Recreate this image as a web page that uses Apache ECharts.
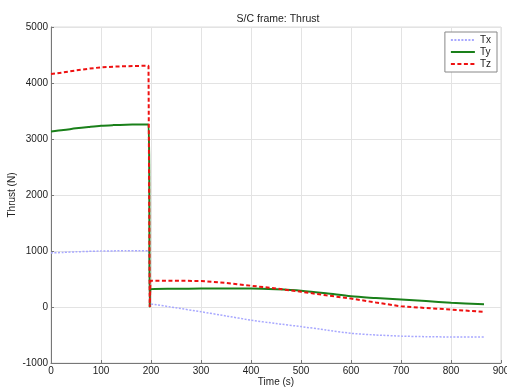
<!DOCTYPE html>
<html><head><meta charset="utf-8">
<script src="https://cdn.jsdelivr.net/npm/echarts@6/dist/echarts.min.js"></script>
<style>html,body{margin:0;padding:0;background:#fff}#c{width:507px;height:390px}</style>
</head><body><div id="c"></div>
<script>
const time = [0, 25, 50, 75, 100, 125, 150, 175, 195, 197.5, 199, 250, 300, 350, 400, 450, 500, 550, 600, 650, 700, 750, 800, 866];
const tx = [965, 975, 985, 993, 1000, 1002, 1003, 1004, 1005, 0, 50, -15, -85, -160, -235, -295, -350, -410, -470, -500, -520, -530, -535, -535];
const ty = [3136, 3160, 3190, 3215, 3237, 3248, 3255, 3258, 3260, 0, 318, 325, 330, 332, 330, 315, 290, 245, 191, 160, 132, 105, 78, 48];
const tz = [4160, 4190, 4225, 4255, 4280, 4292, 4300, 4305, 4308, 0, 470, 468, 465, 430, 380, 330, 273, 210, 150, 80, 12, -18, -46, -88];
const xTicks = [0, 100, 200, 300, 400, 500, 600, 700, 800, 900];
const yTicks = [-1000, 0, 1000, 2000, 3000, 4000, 5000];

const pairs = v => time.map((t, i) => [t, v[i]]);
const font = 'Liberation Sans, Arial, sans-serif';
const chart = echarts.init(document.getElementById('c'), null, {renderer: 'canvas'});
chart.setOption({
  animation: false,
  backgroundColor: '#fff',
  title: {text: 'S/C frame: Thrust', left: 273, top: 9, textAlign: 'center',
    textStyle: {fontSize: 10.5, fontWeight: 'normal', color: '#222', fontFamily: font}},
  grid: {left: 51, right: 6, top: 27, bottom: 27, show: true, borderColor: '#dcdcdc', borderWidth: 1,
    containLabel: false, outerBoundsMode: 'none'},
  legend: {
    orient: 'vertical', right: 10, top: 32, itemWidth: 24, itemHeight: 8, itemGap: 2,
    padding: [3, 6, 3, 5], borderColor: '#888', borderWidth: 1, backgroundColor: '#fff',
    itemStyle: {opacity: 0},
    textStyle: {fontSize: 10, color: '#222', fontFamily: font, padding: [0, 0, 0, 0]},
    data: ['Tx', 'Ty', 'Tz']
  },
  xAxis: {
    type: 'value', min: xTicks[0], max: xTicks[xTicks.length - 1], interval: 100,
    name: 'Time (s)', nameLocation: 'middle', nameGap: 14, nameMoveOverlap: false,
    nameTextStyle: {fontSize: 10, color: '#222', fontFamily: font},
    axisLine: {show: true, onZero: false, lineStyle: {color: '#777'}},
    axisTick: {show: true, inside: true, length: 3, lineStyle: {color: '#777'}},
    axisLabel: {fontSize: 10, color: '#222', margin: 3, fontFamily: font, formatter: v => String(v)},
    splitLine: {show: true, lineStyle: {color: '#e3e3e3'}}
  },
  yAxis: {
    type: 'value', min: yTicks[0], max: yTicks[yTicks.length - 1], interval: 1000,
    name: 'Thrust (N)', nameLocation: 'middle', nameGap: 34, nameRotate: 90, nameMoveOverlap: false,
    nameTextStyle: {fontSize: 10, color: '#222', fontFamily: font},
    axisLine: {show: true, lineStyle: {color: '#777'}},
    axisTick: {show: true, inside: true, length: 3, lineStyle: {color: '#777'}},
    axisLabel: {fontSize: 10, color: '#222', margin: 3, fontFamily: font, formatter: v => String(v)},
    splitLine: {show: true, lineStyle: {color: '#e3e3e3'}}
  },
  series: [
    {name: 'Tx', type: 'line', data: pairs(tx), symbol: 'none', showSymbol: false, smooth: 0.2,
      lineStyle: {color: '#a8a8ff', width: 1.5, type: [2, 1.5]}, itemStyle: {color: '#a8a8ff'}},
    {name: 'Ty', type: 'line', data: pairs(ty), symbol: 'none', showSymbol: false, smooth: 0.3,
      lineStyle: {color: '#1a801a', width: 2}, itemStyle: {color: '#1a801a'}},
    {name: 'Tz', type: 'line', data: pairs(tz), symbol: 'none', showSymbol: false,
      lineStyle: {color: '#ee1111', width: 2, type: [4, 2.5]}, itemStyle: {color: '#ee1111'}}
  ]
});
</script></body></html>
